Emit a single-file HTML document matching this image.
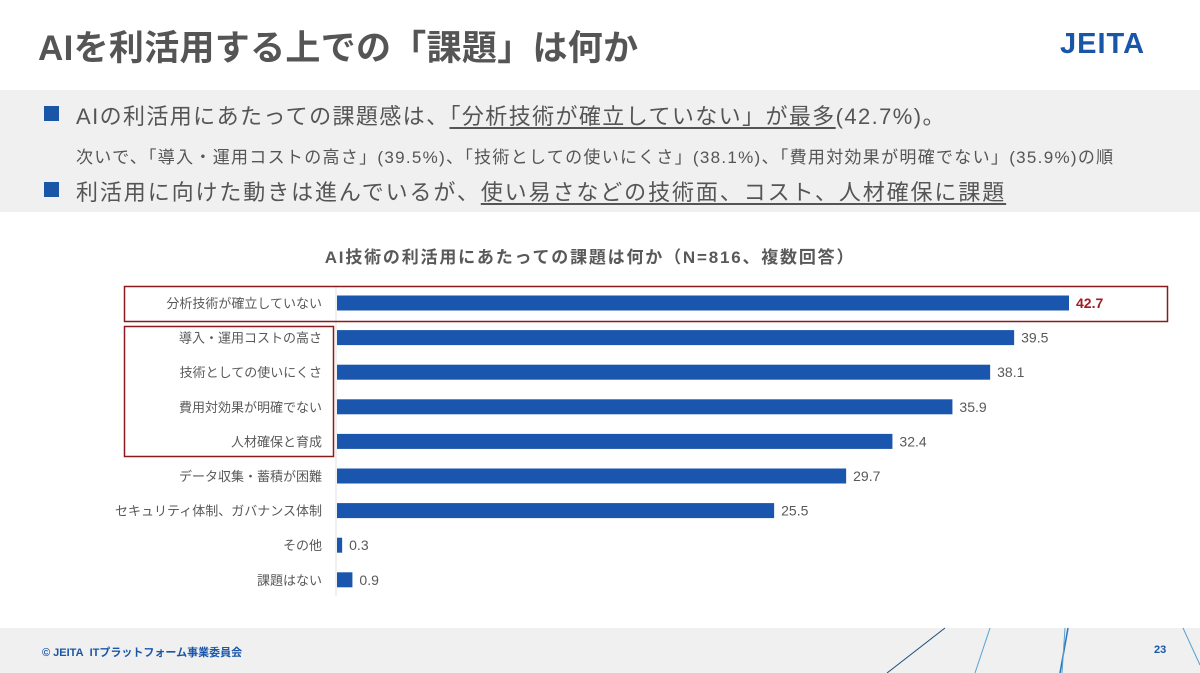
<!DOCTYPE html>
<html><head><meta charset="utf-8"><style>
body{margin:0;width:1200px;height:673px;background:#fff;position:relative;overflow:hidden;font-family:"Liberation Sans","Noto Sans CJK JP",sans-serif;}
.abs{position:absolute;white-space:nowrap;}
u{text-decoration:underline;text-underline-offset:3px;}
</style></head><body>
<div class="abs" style="left:38px;top:20px;font-size:35px;font-weight:bold;color:#555;letter-spacing:0.3px;">AIを利活用する上での「課題」は何か</div>
<div class="abs" style="left:1060px;top:28px;font-size:29px;font-weight:bold;color:#1a56a8;letter-spacing:1px;">JEITA</div>
<div class="abs" style="left:0;top:90px;width:1200px;height:122px;background:#f0f0f0;"></div>
<div class="abs" style="left:44px;top:106px;width:15px;height:15px;background:#1a56a8;"></div>
<div class="abs" style="left:76px;top:99px;font-size:22px;color:#555;letter-spacing:1.4px;">AIの利活用にあたっての課題感は、<u>「分析技術が確立していない」が最多</u>(42.7%)。</div>
<div class="abs" style="left:76px;top:143px;font-size:17px;color:#555;letter-spacing:1.3px;">次いで、「導入・運用コストの高さ」(39.5%)、「技術としての使いにくさ」(38.1%)、「費用対効果が明確でない」(35.9%)の順</div>
<div class="abs" style="left:44px;top:182px;width:15px;height:15px;background:#1a56a8;"></div>
<div class="abs" style="left:76px;top:175px;font-size:22px;color:#555;letter-spacing:1.9px;">利活用に向けた動きは進んでいるが、<u>使い易さなどの技術面、コスト、人材確保に課題</u></div>
<div class="abs" style="left:0;width:1180px;text-align:center;top:243px;font-size:17px;font-weight:bold;color:#595959;letter-spacing:1.8px;">AI技術の利活用にあたっての課題は何か（N=816、複数回答）</div>
<svg id="chart" class="abs" style="left:0;top:0" width="1200" height="673"></svg>
<div class="abs" style="left:0;top:628px;width:1200px;height:45px;background:#f0f0f0;"></div>
<svg class="abs" style="left:0;top:610px" width="1200" height="63">
<line x1="945" y1="18" x2="887" y2="63" stroke="#1f4e79" stroke-width="1"/>
<line x1="990" y1="18" x2="975" y2="63" stroke="#5aa0d0" stroke-width="1"/>
<line x1="1068" y1="18" x2="1060" y2="63" stroke="#2e75b6" stroke-width="1.5"/>
<line x1="1065" y1="18" x2="1062" y2="63" stroke="#5aa0d0" stroke-width="1"/>
<line x1="1183" y1="18" x2="1200" y2="55" stroke="#5aa0d0" stroke-width="1"/>
</svg>
<div class="abs" style="left:42px;top:644px;font-size:11px;font-weight:bold;color:#1a56a8;">© JEITA&nbsp; ITプラットフォーム事業委員会</div>
<div class="abs" style="left:1154px;top:644px;font-size:11px;font-weight:bold;color:#1a56a8;">23</div>
<script>
const categories=["分析技術が確立していない","導入・運用コストの高さ","技術としての使いにくさ","費用対効果が明確でない","人材確保と育成","データ収集・蓄積が困難","セキュリティ体制、ガバナンス体制","その他","課題はない"];
const values=[42.7,39.5,38.1,35.9,32.4,29.7,25.5,0.3,0.9];
const labels=["42.7","39.5","38.1","35.9","32.4","29.7","25.5","0.3","0.9"];
const svg=document.getElementById('chart');const NS='http://www.w3.org/2000/svg';
const x0=337,k=(1069-337)/42.7,y0=303,step=34.6,bh=15;
const xs=v=>x0+v*k, ys=i=>y0+i*step;
function mk(t,a){const e=document.createElementNS(NS,t);for(const n in a)e.setAttribute(n,a[n]);svg.appendChild(e);return e;}
const ax=mk('line',{x1:336,y1:286,x2:336,y2:596,stroke:'#e0e0e0'});


categories.forEach((c,i)=>{
 const y=ys(i);
 const r=mk('rect',{x:x0,y:y-bh/2,width:Math.max(values[i]*k,2),height:bh,fill:'#1a56ad'});
 
 
 const t=mk('text',{x:322,y:y+5,'text-anchor':'end','font-size':13,fill:'#595959'});t.textContent=c;
 
 
 const v=mk('text',{x:xs(values[i])+7,y:y+5,'font-size':14,fill:i==0?'#a01c22':'#595959','font-weight':i==0?'bold':'normal'});v.textContent=labels[i];
 
 
});
const b1=mk('rect',{x:124.5,y:286.5,width:1043,height:35,fill:'none',stroke:'#8b1a1f','stroke-width':1.5});


const b2=mk('rect',{x:124.5,y:326.5,width:209,height:130,fill:'none',stroke:'#8b1a1f','stroke-width':1.5});


</script>
</body></html>
